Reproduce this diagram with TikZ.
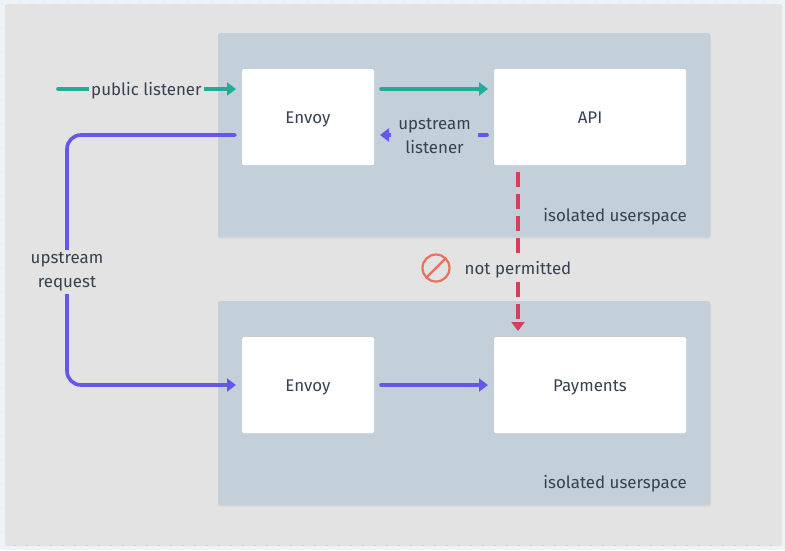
\documentclass[tikz,border=0pt]{standalone}
\usepackage{fontspec}
\setmainfont{Fira Sans}
\usetikzlibrary{arrows.meta,calc}
\definecolor{pagebg}{HTML}{EEF3F8}
\definecolor{panel}{HTML}{E3E3E3}
\definecolor{zonec}{HTML}{C3CFD9}
\definecolor{inkc}{HTML}{36424F}
\definecolor{greenc}{HTML}{20AD96}
\definecolor{purplec}{HTML}{6558E8}
\definecolor{redc}{HTML}{D43F5A}
\definecolor{iconc}{HTML}{E8705F}
\tikzset{
  x=1pt,y=-1pt,
  zone/.style={fill=zonec,rounded corners=1.5pt,minimum width=492pt,minimum height=204pt,inner sep=0pt,outer sep=0pt,draw=none,anchor=north west},
  svc/.style={fill=white,rounded corners=1.5pt,minimum height=96pt,inner sep=0pt,outer sep=0pt,anchor=north west,text=inkc,text height=14pt,text depth=2pt,font=\fontsize{16.9pt}{20pt}\selectfont},
  lbl/.style={text=inkc,font=\fontsize{16.9pt}{24pt}\selectfont,align=center,inner sep=1.5pt},
  tip/.style={-{Triangle[length=9pt,width=13pt]}},
  flow/.style={line width=3.6pt,tip,line cap=round},
  gflow/.style={flow,draw=greenc},
  pflow/.style={flow,draw=purplec},
  rflow/.style={flow,line cap=butt,draw=redc,dash pattern=on 15pt off 7pt}
}
\begin{document}
\begin{tikzpicture}
\useasboundingbox (0,0) rectangle (785,550);
\fill[pagebg] (0,0) rectangle (785,550);
\foreach \n in {0,...,44} \fill[zonec!70!pagebg] (2,{4+12*\n}) circle[radius=0.7];
\foreach \n in {0,...,64} {\fill[zonec!70!pagebg] ({8+12*\n},2) circle[radius=0.7];}
\fill[panel,rounded corners=2pt] (5,4) rectangle (782,546);
\foreach \n in {1,...,64} \fill[black!28] ({3+12*\n},545.5) circle[radius=0.6];
% zone shadows and zones
\fill[black,opacity=.05,rounded corners=2pt] (218,35) rectangle (711,238.5);
\fill[black,opacity=.05,rounded corners=2pt] (218,303) rectangle (711,506.5);
\node[zone] (zonetop) at (218,33) {};
\node[zone] (zonebot) at (218,301) {};
\node[svc,minimum width=132pt] (envoytop) at (242,69) {Envoy};
\node[svc,minimum width=192pt] (api) at (494,69) {API};
\node[svc,minimum width=132pt] (envoybot) at (242,337) {Envoy};
\node[svc,minimum width=192pt] (payments) at (494,337) {Payments};
\node[lbl,anchor=east] (zonelabtop) at (688.5,216.5) {isolated userspace};
\node[lbl,anchor=east] (zonelabbot) at (688.5,483.5) {isolated userspace};
% free ends
\coordinate (pubstart) at (58,89);
\coordinate (pubend) at ($(envoytop.north west)+(-6,20)$);
\coordinate (etopout) at ($(envoytop.north east)+(7,20)$);
\coordinate (apiin) at ($(api.north west)+(-6,20)$);
\coordinate (apiout) at ($(api.south west)+(-7,-30)$);
\coordinate (etopin) at ($(envoytop.south east)+(6,-30)$);
\coordinate (etopup) at ($(envoytop.south west)+(-7,-30)$);
\coordinate (ebotin) at ($(envoybot.north west)+(-6,48)$);
\coordinate (ebotout) at ($(envoybot.north east)+(7,48)$);
\coordinate (payin) at ($(payments.north west)+(-6,48)$);
\coordinate (apidown) at ($(api.south west)+(24,7)$);
\coordinate (paytop) at ($(payments.north west)+(24,-6)$);
% connectors
\draw[gflow] (pubstart) -- node[lbl,fill=panel,inner xsep=2.5pt,inner ysep=1pt,pos=0.497,yshift=-1.5pt] (publab) {public listener} (pubend);
\draw[gflow] (etopout) -- (apiin);
\draw[pflow] (apiout) -- node[lbl,fill=zonec,inner xsep=7pt,pos=0.49,yshift=-1pt] (uplab) {upstream\\listener} (etopin);
\draw[pflow,rounded corners=14pt] (etopup) -- (67,135) -- (67,385) -- (ebotin);
\node[lbl,fill=panel,inner xsep=2pt,inner ysep=3pt] (reqlab) at (67,272) {upstream\\request};
\draw[pflow] (ebotout) -- (payin);
\draw[rflow] (apidown) -- node[lbl,fill=panel,inner ysep=3pt,inner xsep=1pt,pos=0.605,yshift=-2pt] (notlab) {not permitted} (paytop);
% prohibited icon
\node[circle,draw=iconc,line width=2.2pt,minimum size=27pt,inner sep=0pt] (noicon) at (436,268) {};
\draw[iconc,line width=2.2pt] (noicon.45) -- (noicon.225);
\end{tikzpicture}
\end{document}
